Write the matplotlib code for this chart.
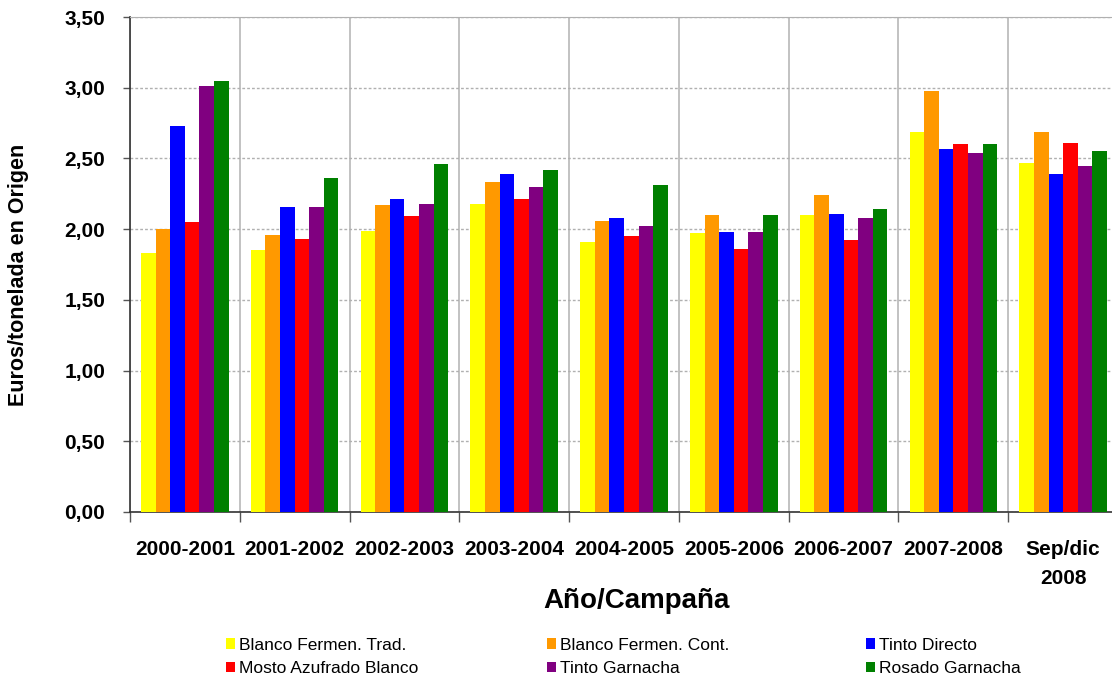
import matplotlib
matplotlib.use("Agg")
import matplotlib.pyplot as plt
import numpy as np
from matplotlib.ticker import FuncFormatter, MultipleLocator

plt.rcParams["font.family"] = ["Liberation Sans", "DejaVu Sans"]

# --- Data ---
campaigns = ["2000-2001", "2001-2002", "2002-2003", "2003-2004", "2004-2005",
             "2005-2006", "2006-2007", "2007-2008", "Sep/dic\n2008"]

blanco_trad = [1.83, 1.85, 1.99, 2.18, 1.91, 1.97, 2.10, 2.69, 2.47]
blanco_cont = [2.00, 1.96, 2.17, 2.33, 2.06, 2.10, 2.24, 2.98, 2.69]
tinto_directo = [2.73, 2.16, 2.21, 2.39, 2.08, 1.98, 2.11, 2.57, 2.39]
mosto_azufrado = [2.05, 1.93, 2.09, 2.21, 1.95, 1.86, 1.92, 2.60, 2.61]
tinto_garnacha = [3.01, 2.16, 2.18, 2.30, 2.02, 1.98, 2.08, 2.54, 2.45]
rosado_garnacha = [3.05, 2.36, 2.46, 2.42, 2.31, 2.10, 2.14, 2.60, 2.55]

series = [
    ("Blanco Fermen. Trad.", blanco_trad, "#FFFF00"),
    ("Blanco Fermen. Cont.", blanco_cont, "#FF9900"),
    ("Tinto Directo", tinto_directo, "#0000FF"),
    ("Mosto Azufrado Blanco", mosto_azufrado, "#FF0000"),
    ("Tinto Garnacha", tinto_garnacha, "#800080"),
    ("Rosado Garnacha", rosado_garnacha, "#008000"),
]

# --- Figure ---
W, H = 1112, 684
fig = plt.figure(figsize=(W / 100, H / 100), dpi=100)
ax = fig.add_axes([130 / W, 1 - 512 / H, 988 / W, 495 / H])

n = len(series)
width = 0.133
centers = np.arange(len(campaigns)) + 0.5
bars = []
for k, (name, vals, col) in enumerate(series):
    b = ax.bar(centers + (k - (n - 1) / 2) * width, vals, width,
               color=col, edgecolor="none", label=name, zorder=3)
    bars.append(b)

ax.set_xlim(0, len(campaigns))
ax.set_ylim(0, 3.5)

# y axis
ax.yaxis.set_major_locator(MultipleLocator(0.5))
ax.yaxis.set_major_formatter(FuncFormatter(lambda v, p: f"{v:.2f}".replace(".", ",")))
ax.tick_params(axis="y", length=5, width=1, pad=13, labelsize=15, color="#555555")
for lab in ax.get_yticklabels():
    lab.set_fontweight("bold")
ax.grid(axis="y", color="#b0b0b0", linestyle=(0, (2, 1.5)), linewidth=1, zorder=0)

# x axis: separators as major ticks, labels as minor ticks
ax.set_xticks(np.arange(len(campaigns) + 1))
ax.set_xticklabels([])
ax.set_xticks(centers, minor=True)
ax.set_xticklabels(campaigns, minor=True, fontsize=15, fontweight="bold")
for lab in ax.get_xticklabels(minor=True):
    lab.set_linespacing(1.65)
ax.tick_params(axis="x", which="major", length=7, width=1, color="#555555")
ax.tick_params(axis="x", which="minor", length=0, pad=20)
ax.grid(axis="x", which="major", color="#b8b8b8", linestyle="-", linewidth=1.2, zorder=0)

ax.spines["left"].set_color("#333333")
ax.spines["bottom"].set_color("#333333")
ax.spines["left"].set_linewidth(1.2)
ax.spines["bottom"].set_linewidth(1.2)
ax.spines["top"].set_color("#b0b0b0")
ax.spines["right"].set_visible(False)

fig.text(19 / W, 1 - 275 / H, "Euros/tonelada en Origen", rotation=90,
         ha="center", va="center", fontsize=15.5, fontweight="bold")
fig.text(637 / W, 1 - 601 / H, "Año/Campaña", ha="center", va="center",
         fontsize=20, fontweight="bold")

# legend: three columns, two rows
col_x = [226, 547, 866]
for c in range(3):
    hs = [bars[c], bars[c + 3]]
    ls = [series[c][0], series[c + 3][0]]
    fig.legend(hs, ls, loc="center left", bbox_to_anchor=(col_x[c] / W, 1 - 657 / H),
               frameon=False, fontsize=12.5, handlelength=0.5, handleheight=0.55,
               handletextpad=0.25, labelspacing=0.5, borderpad=0, borderaxespad=0)

fig.savefig("out.png", dpi=100)
